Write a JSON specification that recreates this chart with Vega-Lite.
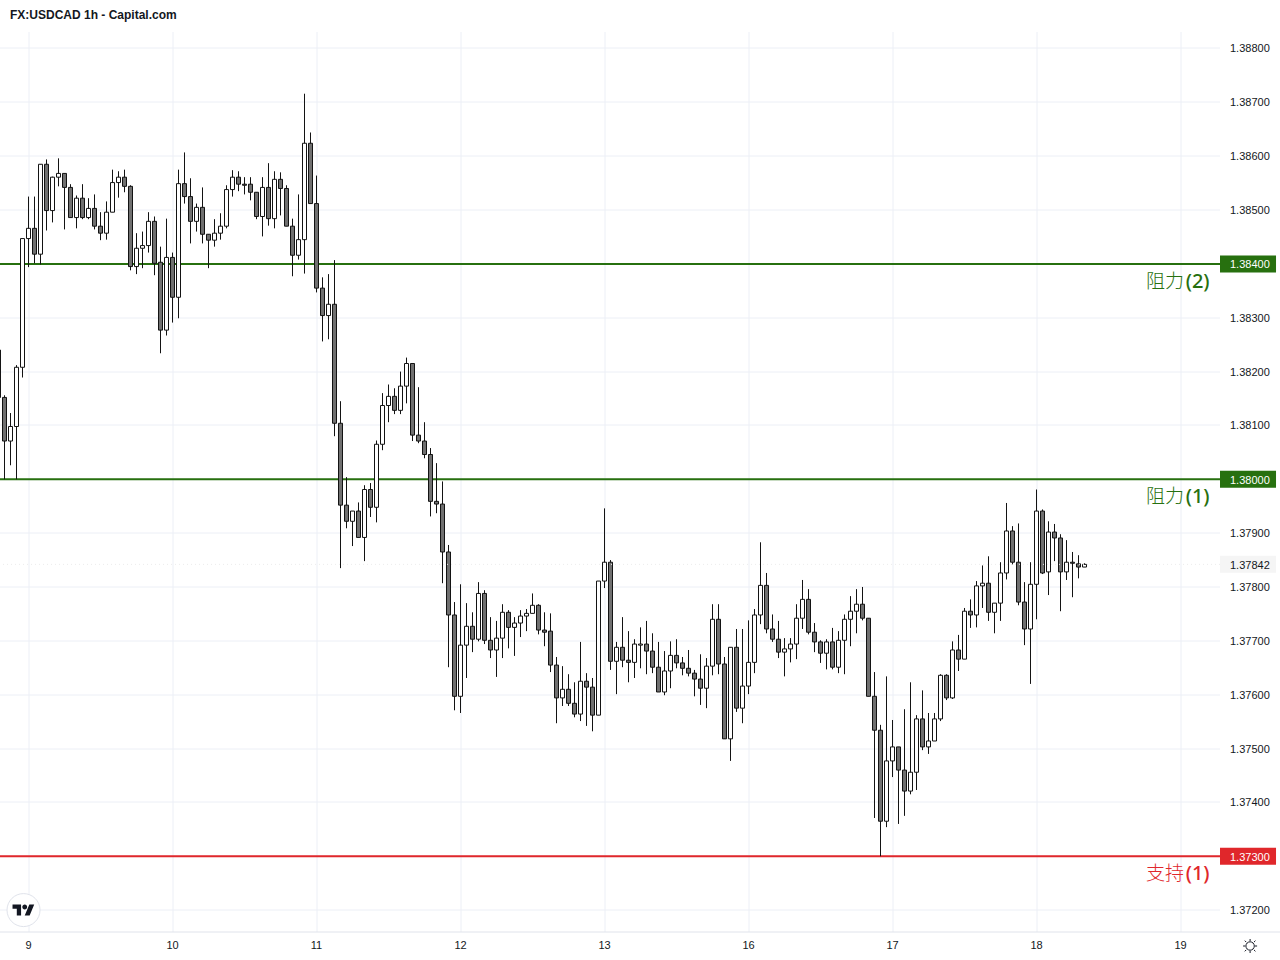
{
"$schema":"https://vega.github.io/schema/vega-lite/v6.json",
"width":1220,"height":900,
"autosize":{"type":"none"},
"padding":{"left":0,"top":32,"right":60,"bottom":28},
"background":"#ffffff",
"config":{"view":{"stroke":null}},
"title":{"text":"FX:USDCAD 1h - Capital.com","anchor":"start","frame":"group","dx":10,"offset":10,"font":"Liberation Sans","fontSize":12,"fontWeight":"bold","color":"#131722"},
"datasets":{
"levels":[{"level":1.384,"name":"阻力","rank":"(2)","kind":"resistance"},{"level":1.38,"name":"阻力","rank":"(1)","kind":"resistance"},{"level":1.373,"name":"支持","rank":"(1)","kind":"support"}],
"last":[{"price":1.37842}],
"candles":[
{"bar":-5,"open":1.3824,"high":1.38258,"low":1.38147,"close":1.38152},
{"bar":-4,"open":1.38152,"high":1.38156,"low":1.38,"close":1.38071},
{"bar":-3,"open":1.38071,"high":1.38123,"low":1.38026,"close":1.38098},
{"bar":-2,"open":1.38098,"high":1.38212,"low":1.38,"close":1.38208},
{"bar":-1,"open":1.38208,"high":1.38447,"low":1.38189,"close":1.38447},
{"bar":0,"open":1.38447,"high":1.38525,"low":1.38394,"close":1.38466},
{"bar":1,"open":1.38466,"high":1.38525,"low":1.38401,"close":1.38418},
{"bar":2,"open":1.38418,"high":1.38585,"low":1.38399,"close":1.38585},
{"bar":3,"open":1.38585,"high":1.38594,"low":1.38462,"close":1.38499},
{"bar":4,"open":1.38499,"high":1.38562,"low":1.38477,"close":1.38561},
{"bar":5,"open":1.38561,"high":1.38596,"low":1.38544,"close":1.38568},
{"bar":6,"open":1.38568,"high":1.38568,"low":1.38464,"close":1.38542},
{"bar":7,"open":1.38542,"high":1.38548,"low":1.38486,"close":1.38486},
{"bar":8,"open":1.38486,"high":1.38527,"low":1.38466,"close":1.38522},
{"bar":9,"open":1.38522,"high":1.38548,"low":1.38483,"close":1.38486},
{"bar":10,"open":1.38486,"high":1.38522,"low":1.38483,"close":1.38503},
{"bar":11,"open":1.38503,"high":1.38529,"low":1.38464,"close":1.3847},
{"bar":12,"open":1.3847,"high":1.38496,"low":1.38444,"close":1.38457},
{"bar":13,"open":1.38457,"high":1.38516,"low":1.38445,"close":1.38496},
{"bar":14,"open":1.38496,"high":1.38575,"low":1.38496,"close":1.38551},
{"bar":15,"open":1.38551,"high":1.38572,"low":1.38523,"close":1.38561},
{"bar":16,"open":1.38561,"high":1.38575,"low":1.38533,"close":1.38544},
{"bar":17,"open":1.38544,"high":1.38546,"low":1.38388,"close":1.38395},
{"bar":18,"open":1.38395,"high":1.38457,"low":1.38381,"close":1.38429},
{"bar":19,"open":1.38429,"high":1.3846,"low":1.38392,"close":1.38434},
{"bar":20,"open":1.38434,"high":1.38496,"low":1.38421,"close":1.38479},
{"bar":21,"open":1.38479,"high":1.38488,"low":1.38379,"close":1.38401},
{"bar":22,"open":1.38403,"high":1.38432,"low":1.38234,"close":1.38277},
{"bar":23,"open":1.38277,"high":1.38484,"low":1.38267,"close":1.38412},
{"bar":24,"open":1.38412,"high":1.38421,"low":1.38291,"close":1.38338},
{"bar":25,"open":1.38338,"high":1.38575,"low":1.38299,"close":1.38549},
{"bar":26,"open":1.38549,"high":1.38607,"low":1.38512,"close":1.38525},
{"bar":27,"open":1.38525,"high":1.38559,"low":1.38438,"close":1.38479},
{"bar":28,"open":1.38479,"high":1.38512,"low":1.3846,"close":1.38505},
{"bar":29,"open":1.38505,"high":1.38542,"low":1.38438,"close":1.38455},
{"bar":30,"open":1.38455,"high":1.38455,"low":1.38392,"close":1.38444},
{"bar":31,"open":1.38444,"high":1.38483,"low":1.38432,"close":1.38457},
{"bar":32,"open":1.38457,"high":1.38494,"low":1.38445,"close":1.3847},
{"bar":33,"open":1.3847,"high":1.38546,"low":1.38466,"close":1.38538},
{"bar":34,"open":1.38538,"high":1.38574,"low":1.38525,"close":1.38561},
{"bar":35,"open":1.38561,"high":1.38572,"low":1.38535,"close":1.38548},
{"bar":36,"open":1.38548,"high":1.38561,"low":1.38529,"close":1.38546},
{"bar":37,"open":1.38548,"high":1.38561,"low":1.38518,"close":1.38533},
{"bar":38,"open":1.38533,"high":1.38533,"low":1.38483,"close":1.38488},
{"bar":39,"open":1.38488,"high":1.38561,"low":1.38451,"close":1.38542},
{"bar":40,"open":1.38542,"high":1.38587,"low":1.38471,"close":1.38484},
{"bar":41,"open":1.38484,"high":1.38572,"low":1.38466,"close":1.38557},
{"bar":42,"open":1.38557,"high":1.3857,"low":1.3849,"close":1.3854},
{"bar":43,"open":1.3854,"high":1.38546,"low":1.3847,"close":1.3847},
{"bar":44,"open":1.3847,"high":1.38484,"low":1.38377,"close":1.38416},
{"bar":45,"open":1.38416,"high":1.38529,"low":1.38408,"close":1.38445},
{"bar":46,"open":1.38445,"high":1.38716,"low":1.38382,"close":1.38624},
{"bar":47,"open":1.38624,"high":1.38644,"low":1.38512,"close":1.38512},
{"bar":48,"open":1.38512,"high":1.38564,"low":1.38347,"close":1.38355},
{"bar":49,"open":1.38355,"high":1.38375,"low":1.38256,"close":1.38304},
{"bar":50,"open":1.38304,"high":1.38381,"low":1.3826,"close":1.38325},
{"bar":51,"open":1.38325,"high":1.38407,"low":1.3808,"close":1.38104},
{"bar":52,"open":1.38104,"high":1.38145,"low":1.37835,"close":1.37952},
{"bar":53,"open":1.37952,"high":1.38004,"low":1.37909,"close":1.37922},
{"bar":54,"open":1.37922,"high":1.37941,"low":1.37876,"close":1.37941},
{"bar":55,"open":1.37941,"high":1.37957,"low":1.37892,"close":1.37892},
{"bar":56,"open":1.37892,"high":1.37989,"low":1.37848,"close":1.37981},
{"bar":57,"open":1.37981,"high":1.37993,"low":1.3793,"close":1.37948},
{"bar":58,"open":1.37948,"high":1.38072,"low":1.3792,"close":1.38065},
{"bar":59,"open":1.38065,"high":1.3816,"low":1.38054,"close":1.38137},
{"bar":60,"open":1.38137,"high":1.38176,"low":1.38106,"close":1.38154},
{"bar":61,"open":1.38154,"high":1.38169,"low":1.38121,"close":1.38128},
{"bar":62,"open":1.38128,"high":1.382,"low":1.38121,"close":1.38173},
{"bar":63,"open":1.38173,"high":1.38226,"low":1.38141,"close":1.38215},
{"bar":64,"open":1.38215,"high":1.38215,"low":1.38071,"close":1.38082},
{"bar":65,"open":1.38082,"high":1.38171,"low":1.38067,"close":1.38071},
{"bar":66,"open":1.38071,"high":1.38106,"low":1.38039,"close":1.38046},
{"bar":67,"open":1.38046,"high":1.38058,"low":1.37931,"close":1.37959},
{"bar":68,"open":1.37959,"high":1.3803,"low":1.37937,"close":1.37954},
{"bar":69,"open":1.37954,"high":1.37996,"low":1.37807,"close":1.37865},
{"bar":70,"open":1.37865,"high":1.37878,"low":1.37651,"close":1.37748},
{"bar":71,"open":1.37748,"high":1.37772,"low":1.37571,"close":1.37597},
{"bar":72,"open":1.37597,"high":1.37805,"low":1.37566,"close":1.37692},
{"bar":73,"open":1.37692,"high":1.3777,"low":1.37631,"close":1.37727},
{"bar":74,"open":1.37727,"high":1.37753,"low":1.37679,"close":1.37703},
{"bar":75,"open":1.37703,"high":1.37809,"low":1.37699,"close":1.37788},
{"bar":76,"open":1.37788,"high":1.37794,"low":1.37694,"close":1.37701},
{"bar":77,"open":1.37701,"high":1.37744,"low":1.37668,"close":1.37683},
{"bar":78,"open":1.37683,"high":1.37737,"low":1.37633,"close":1.37705},
{"bar":79,"open":1.37705,"high":1.37768,"low":1.37668,"close":1.37753},
{"bar":80,"open":1.37753,"high":1.37757,"low":1.37686,"close":1.37725},
{"bar":81,"open":1.37725,"high":1.37744,"low":1.37672,"close":1.37733},
{"bar":82,"open":1.37733,"high":1.37757,"low":1.37707,"close":1.37746},
{"bar":83,"open":1.37746,"high":1.37759,"low":1.37718,"close":1.37751},
{"bar":84,"open":1.37751,"high":1.37788,"low":1.37751,"close":1.37766},
{"bar":85,"open":1.37766,"high":1.37768,"low":1.37712,"close":1.3772},
{"bar":86,"open":1.3772,"high":1.37753,"low":1.3769,"close":1.37716},
{"bar":87,"open":1.37718,"high":1.37751,"low":1.37642,"close":1.37655},
{"bar":88,"open":1.37655,"high":1.3767,"low":1.37547,"close":1.37594},
{"bar":89,"open":1.37594,"high":1.37653,"low":1.37579,"close":1.3761},
{"bar":90,"open":1.3761,"high":1.37638,"low":1.37579,"close":1.37584},
{"bar":91,"open":1.37584,"high":1.37623,"low":1.37558,"close":1.37564},
{"bar":92,"open":1.37564,"high":1.37698,"low":1.37551,"close":1.37625},
{"bar":93,"open":1.37625,"high":1.3764,"low":1.37542,"close":1.37614},
{"bar":94,"open":1.37614,"high":1.37631,"low":1.37532,"close":1.37562},
{"bar":95,"open":1.37562,"high":1.37811,"low":1.37562,"close":1.37811},
{"bar":96,"open":1.37811,"high":1.37946,"low":1.37798,"close":1.37846},
{"bar":97,"open":1.37846,"high":1.3785,"low":1.37646,"close":1.37662},
{"bar":98,"open":1.37662,"high":1.37698,"low":1.37601,"close":1.37688},
{"bar":99,"open":1.37688,"high":1.37744,"low":1.37651,"close":1.37664},
{"bar":100,"open":1.37664,"high":1.37718,"low":1.37623,"close":1.3766},
{"bar":101,"open":1.3766,"high":1.37703,"low":1.37631,"close":1.37694},
{"bar":102,"open":1.37692,"high":1.37725,"low":1.37649,"close":1.37694},
{"bar":103,"open":1.37694,"high":1.37737,"low":1.37638,"close":1.37681},
{"bar":104,"open":1.37681,"high":1.37714,"low":1.3764,"close":1.37651},
{"bar":105,"open":1.37651,"high":1.37698,"low":1.37605,"close":1.37605},
{"bar":106,"open":1.37605,"high":1.37681,"low":1.37599,"close":1.37644},
{"bar":107,"open":1.37644,"high":1.37699,"low":1.37612,"close":1.37673},
{"bar":108,"open":1.37673,"high":1.37703,"low":1.37649,"close":1.37659},
{"bar":109,"open":1.37659,"high":1.3767,"low":1.37636,"close":1.37649},
{"bar":110,"open":1.37649,"high":1.37683,"low":1.37634,"close":1.3764},
{"bar":111,"open":1.3764,"high":1.37646,"low":1.37597,"close":1.37629},
{"bar":112,"open":1.37629,"high":1.37675,"low":1.37581,"close":1.37612},
{"bar":113,"open":1.37612,"high":1.37668,"low":1.37575,"close":1.37653},
{"bar":114,"open":1.37653,"high":1.37768,"low":1.37636,"close":1.3774},
{"bar":115,"open":1.3774,"high":1.37768,"low":1.37638,"close":1.37657},
{"bar":116,"open":1.37657,"high":1.3767,"low":1.37518,"close":1.37518},
{"bar":117,"open":1.37518,"high":1.37688,"low":1.37477,"close":1.37688},
{"bar":118,"open":1.37688,"high":1.37722,"low":1.37568,"close":1.37575},
{"bar":119,"open":1.37575,"high":1.37722,"low":1.37547,"close":1.37616},
{"bar":120,"open":1.37616,"high":1.37738,"low":1.37601,"close":1.3766},
{"bar":121,"open":1.3766,"high":1.37759,"low":1.3764,"close":1.37748},
{"bar":122,"open":1.37748,"high":1.37883,"low":1.37731,"close":1.37803},
{"bar":123,"open":1.37803,"high":1.37826,"low":1.37714,"close":1.37722},
{"bar":124,"open":1.37722,"high":1.37749,"low":1.37698,"close":1.37703},
{"bar":125,"open":1.37703,"high":1.37737,"low":1.37668,"close":1.37679},
{"bar":126,"open":1.37679,"high":1.37705,"low":1.37634,"close":1.37685},
{"bar":127,"open":1.37685,"high":1.37705,"low":1.3766,"close":1.37694},
{"bar":128,"open":1.37694,"high":1.37768,"low":1.37666,"close":1.37742},
{"bar":129,"open":1.37742,"high":1.37813,"low":1.37722,"close":1.37777},
{"bar":130,"open":1.37777,"high":1.37796,"low":1.37712,"close":1.37716},
{"bar":131,"open":1.37716,"high":1.37733,"low":1.37679,"close":1.37698},
{"bar":132,"open":1.37698,"high":1.37701,"low":1.37659,"close":1.37677},
{"bar":133,"open":1.37677,"high":1.37703,"low":1.37647,"close":1.37698},
{"bar":134,"open":1.37698,"high":1.37724,"low":1.37647,"close":1.37651},
{"bar":135,"open":1.37651,"high":1.37718,"low":1.3764,"close":1.37701},
{"bar":136,"open":1.37701,"high":1.37749,"low":1.37638,"close":1.3774},
{"bar":137,"open":1.3774,"high":1.37783,"low":1.3769,"close":1.37755},
{"bar":138,"open":1.37755,"high":1.37796,"low":1.37714,"close":1.37768},
{"bar":139,"open":1.37768,"high":1.378,"low":1.37738,"close":1.37742},
{"bar":140,"open":1.37742,"high":1.37742,"low":1.37597,"close":1.37597},
{"bar":141,"open":1.37597,"high":1.37642,"low":1.37371,"close":1.37534},
{"bar":142,"open":1.37534,"high":1.37544,"low":1.373,"close":1.37365},
{"bar":143,"open":1.37365,"high":1.37634,"low":1.37354,"close":1.37477},
{"bar":144,"open":1.37477,"high":1.37553,"low":1.37447,"close":1.37503},
{"bar":145,"open":1.37503,"high":1.37503,"low":1.3736,"close":1.3746},
{"bar":146,"open":1.3746,"high":1.37573,"low":1.37375,"close":1.37421},
{"bar":147,"open":1.37421,"high":1.37623,"low":1.37415,"close":1.37456},
{"bar":148,"open":1.37456,"high":1.37562,"low":1.37423,"close":1.37555},
{"bar":149,"open":1.37555,"high":1.37608,"low":1.37497,"close":1.37503},
{"bar":150,"open":1.37503,"high":1.37566,"low":1.3749,"close":1.37514},
{"bar":151,"open":1.37514,"high":1.37566,"low":1.37514,"close":1.37555},
{"bar":152,"open":1.37555,"high":1.37638,"low":1.37551,"close":1.37636},
{"bar":153,"open":1.37636,"high":1.37638,"low":1.3759,"close":1.37594},
{"bar":154,"open":1.37594,"high":1.37699,"low":1.37592,"close":1.37683},
{"bar":155,"open":1.37683,"high":1.37711,"low":1.37644,"close":1.37666},
{"bar":156,"open":1.37666,"high":1.37761,"low":1.37666,"close":1.37755},
{"bar":157,"open":1.37755,"high":1.37777,"low":1.37724,"close":1.37748},
{"bar":158,"open":1.37748,"high":1.37811,"low":1.37725,"close":1.37802},
{"bar":159,"open":1.37802,"high":1.3784,"low":1.37761,"close":1.37807},
{"bar":160,"open":1.37807,"high":1.37857,"low":1.37737,"close":1.37753},
{"bar":161,"open":1.37753,"high":1.3777,"low":1.37714,"close":1.3777},
{"bar":162,"open":1.3777,"high":1.37846,"low":1.37737,"close":1.37826},
{"bar":163,"open":1.37826,"high":1.37956,"low":1.37814,"close":1.37904},
{"bar":164,"open":1.37904,"high":1.37913,"low":1.37842,"close":1.37846},
{"bar":165,"open":1.37846,"high":1.37918,"low":1.37766,"close":1.37772},
{"bar":166,"open":1.37772,"high":1.37809,"low":1.37692,"close":1.37722},
{"bar":167,"open":1.37722,"high":1.37846,"low":1.3762,"close":1.37805},
{"bar":168,"open":1.37805,"high":1.37981,"low":1.3774,"close":1.37941},
{"bar":169,"open":1.37941,"high":1.37944,"low":1.37824,"close":1.37826},
{"bar":170,"open":1.37828,"high":1.37922,"low":1.37785,"close":1.37902},
{"bar":171,"open":1.37902,"high":1.37917,"low":1.37848,"close":1.37891},
{"bar":172,"open":1.37891,"high":1.37898,"low":1.37755,"close":1.37828},
{"bar":173,"open":1.37828,"high":1.37887,"low":1.37813,"close":1.37846},
{"bar":174,"open":1.37846,"high":1.37865,"low":1.37781,"close":1.37844},
{"bar":175,"open":1.37843,"high":1.37859,"low":1.37816,"close":1.37837},
{"bar":176,"open":1.37837,"high":1.37844,"low":1.37837,"close":1.37842}
]},
"layer":[
{"data":{"name":"levels"},
 "mark":{"type":"rule","strokeWidth":2},
 "encoding":{
  "y":{"field":"level","type":"quantitative","scale":{"domain":[1.371593,1.388306],"nice":false,"zero":false},
   "axis":{"orient":"right","translate":0,"values":[1.372,1.373,1.374,1.375,1.376,1.377,1.378,1.379,1.38,1.381,1.382,1.383,1.384,1.385,1.386,1.387,1.388],"format":".5f","title":null,"grid":true,"gridColor":"#eceff6","gridWidth":1,"domain":false,"ticks":false,"labelPadding":10,"labelOffset":1,"labelFont":"Liberation Sans","labelFontSize":11,"labelColor":"#131722","labelBound":false,"labelFlush":false}},
  "color":{"field":"kind","type":"nominal","scale":{"domain":["resistance","support"],"range":["#27700f","#e0272b"]},"legend":null}}},
{"data":{"name":"candles"},
 "mark":{"type":"rule","strokeWidth":1,"color":"#131313"},
 "encoding":{
  "x":{"field":"bar","type":"quantitative","scale":{"domain":[-4.75,198.583],"nice":false,"zero":false,"padding":0},
   "axis":{"orient":"bottom","translate":0,"values":[0,24,48,72,96,120,144,168,192],"labelExpr":"['9','10','11','12','13','16','17','18','19'][datum.value/24]","title":null,"grid":true,"gridColor":"#eceff6","gridWidth":1,"domain":false,"ticks":false,"labelPadding":8,"labelFont":"Liberation Sans","labelFontSize":11,"labelColor":"#131722","labelFlush":false,"labelBound":false}},
  "y":{"field":"high","type":"quantitative","scale":{"domain":[1.371593,1.388306],"nice":false,"zero":false}},
  "y2":{"field":"low"}}},
{"data":{"name":"candles"},
 "mark":{"type":"bar","size":4,"stroke":"#131313","strokeWidth":1},
 "encoding":{
  "x":{"field":"bar","type":"quantitative","scale":{"domain":[-4.75,198.583],"nice":false,"zero":false,"padding":0}},
  "y":{"field":"open","type":"quantitative","scale":{"domain":[1.371593,1.388306],"nice":false,"zero":false}},
  "y2":{"field":"close"},
  "fill":{"condition":{"test":"datum.close >= datum.open","value":"#ffffff"},"value":"#707070"}}},
{"data":{"name":"last"},
 "mark":{"type":"rule","strokeWidth":1,"strokeDash":[1,3],"color":"#ececec"},
 "encoding":{"y":{"field":"price","type":"quantitative","scale":{"domain":[1.371593,1.388306],"nice":false,"zero":false}}}},
{"data":{"name":"levels"},
 "mark":{"type":"text","font":"Noto Sans CJK SC","fontSize":19,"fontWeight":300,"align":"right","baseline":"middle","dy":18,"clip":false},
 "encoding":{
  "x":{"datum":192.6,"type":"quantitative","scale":{"domain":[-4.75,198.583],"nice":false,"zero":false,"padding":0}},
  "y":{"field":"level","type":"quantitative","scale":{"domain":[1.371593,1.388306],"nice":false,"zero":false}},
  "text":{"field":"name"},
  "color":{"field":"kind","type":"nominal","scale":{"domain":["resistance","support"],"range":["#27700f","#e0272b"]},"legend":null}}},
{"data":{"name":"levels"},
 "mark":{"type":"text","font":"Noto Sans","fontSize":20,"fontWeight":500,"align":"right","baseline":"middle","dy":18,"clip":false},
 "encoding":{
  "x":{"datum":196.85,"type":"quantitative","scale":{"domain":[-4.75,198.583],"nice":false,"zero":false,"padding":0}},
  "y":{"field":"level","type":"quantitative","scale":{"domain":[1.371593,1.388306],"nice":false,"zero":false}},
  "text":{"field":"rank"},
  "color":{"field":"kind","type":"nominal","scale":{"domain":["resistance","support"],"range":["#27700f","#e0272b"]},"legend":null}}},
{"data":{"name":"levels"},
 "mark":{"type":"rule","strokeWidth":17,"clip":false},
 "encoding":{
  "x":{"datum":198.583,"type":"quantitative","scale":{"domain":[-4.75,198.583],"nice":false,"zero":false,"padding":0}},
  "x2":{"datum":207.92},
  "y":{"field":"level","type":"quantitative","scale":{"domain":[1.371593,1.388306],"nice":false,"zero":false}},
  "color":{"field":"kind","type":"nominal","scale":{"domain":["resistance","support"],"range":["#27700f","#e0272b"]},"legend":null}}},
{"data":{"name":"levels"},
 "mark":{"type":"text","font":"Liberation Sans","fontSize":11,"align":"left","baseline":"middle","dy":1.5,"color":"#ffffff","clip":false},
 "encoding":{
  "x":{"datum":200.25,"type":"quantitative","scale":{"domain":[-4.75,198.583],"nice":false,"zero":false,"padding":0}},
  "y":{"field":"level","type":"quantitative","scale":{"domain":[1.371593,1.388306],"nice":false,"zero":false}},
  "text":{"field":"level","type":"quantitative","format":".5f"}}},
{"data":{"name":"last"},
 "mark":{"type":"rule","strokeWidth":17,"color":"#f5f5f5","clip":false},
 "encoding":{
  "x":{"datum":198.583,"type":"quantitative","scale":{"domain":[-4.75,198.583],"nice":false,"zero":false,"padding":0}},
  "x2":{"datum":207.92},
  "y":{"field":"price","type":"quantitative","scale":{"domain":[1.371593,1.388306],"nice":false,"zero":false}}}},
{"data":{"name":"last"},
 "mark":{"type":"text","font":"Liberation Sans","fontSize":11,"align":"left","baseline":"middle","dy":1.5,"color":"#131722","clip":false},
 "encoding":{
  "x":{"datum":200.25,"type":"quantitative","scale":{"domain":[-4.75,198.583],"nice":false,"zero":false,"padding":0}},
  "y":{"field":"price","type":"quantitative","scale":{"domain":[1.371593,1.388306],"nice":false,"zero":false}},
  "text":{"field":"price","type":"quantitative","format":".5f"}}},
{"data":{"values":[{"axisline":"bottom"}]},
 "mark":{"type":"rule","strokeWidth":1,"color":"#e0e3eb","clip":false},
 "encoding":{
  "x":{"datum":-4.75,"type":"quantitative","scale":{"domain":[-4.75,198.583],"nice":false,"zero":false,"padding":0}},
  "x2":{"datum":208.7},
  "y":{"datum":1.371593,"type":"quantitative","scale":{"domain":[1.371593,1.388306],"nice":false,"zero":false}}}},
{"data":{"values":[{"logo":"badge"}]},
 "mark":{"type":"point","shape":"circle","size":1089,"filled":true,"fill":"#ffffff","stroke":"#e0e3eb","strokeWidth":1,"opacity":1,"clip":false},
 "encoding":{
  "x":{"datum":-0.83,"type":"quantitative","scale":{"domain":[-4.75,198.583],"nice":false,"zero":false,"padding":0}},
  "y":{"datum":1.372,"type":"quantitative","scale":{"domain":[1.371593,1.388306],"nice":false,"zero":false}}}},
{"data":{"values":[{"logo":"glyph"}]},
 "mark":{"type":"point","shape":"M-0.222,0.5H-0.611V-0.111H-1V-0.5H-0.222ZM0.556,0.5H0.111L0.528,-0.5H0.972ZM-0.111,-0.278a0.222,0.222 0 1,0 0.444,0a0.222,0.222 0 1,0 -0.444,0Z","size":484,"filled":true,"fill":"#131722","strokeWidth":0,"opacity":1,"clip":false},
 "encoding":{
  "x":{"datum":-0.83,"type":"quantitative","scale":{"domain":[-4.75,198.583],"nice":false,"zero":false,"padding":0}},
  "y":{"datum":1.372,"type":"quantitative","scale":{"domain":[1.371593,1.388306],"nice":false,"zero":false}}}},
{"data":{"values":[{"icon":"settings"}]},
 "mark":{"type":"point","shape":"M-0.6,0a0.6,0.6 0 1,0 1.2,0a0.6,0.6 0 1,0 -1.2,0ZM0,-1V-0.7M0,1V0.7M-1,0H-0.7M1,0H0.7M-0.76,-0.76L-0.55,-0.55M0.76,0.76L0.55,0.55M-0.76,0.76L-0.55,0.55M0.76,-0.76L0.55,-0.55","size":196,"filled":false,"stroke":"#131722","strokeWidth":1,"opacity":1,"clip":false},
 "encoding":{
  "x":{"datum":203.6,"type":"quantitative","scale":{"domain":[-4.75,198.583],"nice":false,"zero":false,"padding":0}},
  "y":{"datum":1.371333,"type":"quantitative","scale":{"domain":[1.371593,1.388306],"nice":false,"zero":false}}}}
]
}
